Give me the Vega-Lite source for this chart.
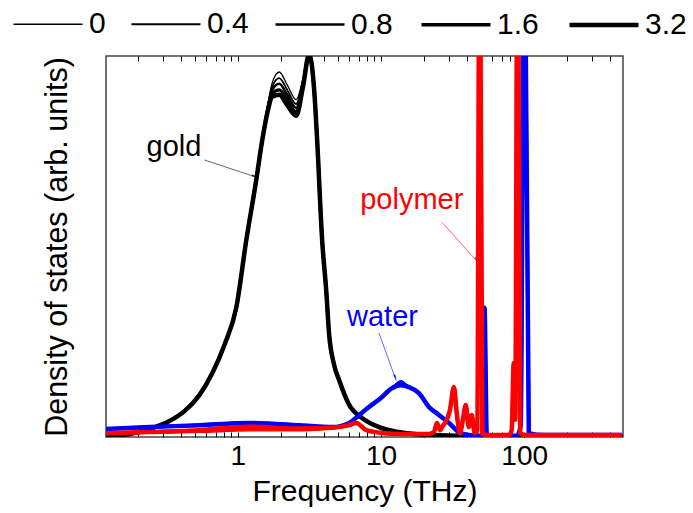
{
  "$schema": "https://vega.github.io/schema/vega-lite/v6.json",
  "width": 517,
  "height": 381,
  "autosize": {"type": "none"},
  "padding": {"left": 106, "top": 56, "right": 70, "bottom": 76},
  "background": "white",
  "config": {
    "view": {"stroke": "#444444", "strokeWidth": 1.5},
    "font": "Liberation Sans"
  },
  "resolve": {"axis": {"x": "independent"}},
  "layer": [
    {
      "data": {
        "values": [
          {"m": "gold", "f": 0.119, "a": 0.3, "b": 0.3, "c": 0.3, "d": 0.3, "e": 0.3},
          {"m": "gold", "f": 0.175, "a": 0.8, "b": 0.8, "c": 0.8, "d": 0.8, "e": 0.8},
          {"m": "gold", "f": 0.242, "a": 2.1, "b": 2.1, "c": 2.1, "d": 2.1, "e": 2.1},
          {"m": "gold", "f": 0.333, "a": 4.2, "b": 4.2, "c": 4.2, "d": 4.2, "e": 4.2},
          {"m": "gold", "f": 0.424, "a": 6.8, "b": 6.8, "c": 6.8, "d": 6.8, "e": 6.8},
          {"m": "gold", "f": 0.539, "a": 11.0, "b": 11.0, "c": 11.0, "d": 11.0, "e": 11.0},
          {"m": "gold", "f": 0.664, "a": 16.8, "b": 16.8, "c": 16.8, "d": 16.8, "e": 16.8},
          {"m": "gold", "f": 0.805, "a": 24.1, "b": 24.1, "c": 24.1, "d": 24.1, "e": 24.1},
          {"m": "gold", "f": 0.977, "a": 34.1, "b": 34.1, "c": 34.1, "d": 34.1, "e": 34.1},
          {"m": "gold", "f": 1.146, "a": 51.7, "b": 51.7, "c": 51.7, "d": 51.7, "e": 51.7},
          {"m": "gold", "f": 1.345, "a": 67.5, "b": 67.5, "c": 67.5, "d": 67.5, "e": 67.5},
          {"m": "gold", "f": 1.482, "a": 78.0, "b": 78.0, "c": 78.0, "d": 78.0, "e": 78.0},
          {"m": "gold", "f": 1.606, "a": 86.6, "b": 86.2, "c": 85.8, "d": 85.4, "e": 85.0},
          {"m": "gold", "f": 1.74, "a": 93.0, "b": 92.0, "c": 91.1, "d": 90.2, "e": 89.3},
          {"m": "gold", "f": 1.946, "a": 95.8, "b": 94.2, "c": 92.7, "d": 91.1, "e": 89.8},
          {"m": "gold", "f": 2.213, "a": 92.4, "b": 91.1, "c": 89.8, "d": 88.5, "e": 87.1},
          {"m": "gold", "f": 2.556, "a": 88.5, "b": 87.4, "c": 86.4, "d": 85.3, "e": 84.3},
          {"m": "gold", "f": 2.859, "a": 94.2, "b": 93.7, "c": 93.2, "d": 92.7, "e": 92.2},
          {"m": "gold", "f": 3.148, "a": 100.5, "b": 100.5, "c": 100.5, "d": 100.5, "e": 100.5},
          {"m": "gold", "f": 3.413, "a": 91.1, "b": 91.1, "c": 91.1, "d": 91.1, "e": 91.1},
          {"m": "gold", "f": 3.58, "a": 78.0, "b": 78.0, "c": 78.0, "d": 78.0, "e": 78.0},
          {"m": "gold", "f": 3.88, "a": 51.7, "b": 51.7, "c": 51.7, "d": 51.7, "e": 51.7},
          {"m": "gold", "f": 4.14, "a": 38.6, "b": 38.6, "c": 38.6, "d": 38.6, "e": 38.6},
          {"m": "gold", "f": 4.34, "a": 27.0, "b": 27.0, "c": 27.0, "d": 27.0, "e": 27.0},
          {"m": "gold", "f": 4.7, "a": 19.0, "b": 19.0, "c": 19.0, "d": 19.0, "e": 19.0},
          {"m": "gold", "f": 5.09, "a": 15.0, "b": 15.0, "c": 15.0, "d": 15.0, "e": 15.0},
          {"m": "gold", "f": 5.98, "a": 8.5, "b": 8.5, "c": 8.5, "d": 8.5, "e": 8.5},
          {"m": "gold", "f": 7.37, "a": 5.0, "b": 5.0, "c": 5.0, "d": 5.0, "e": 5.0},
          {"m": "gold", "f": 9.69, "a": 2.6, "b": 2.6, "c": 2.6, "d": 2.6, "e": 2.6},
          {"m": "gold", "f": 13.3, "a": 1.3, "b": 1.3, "c": 1.3, "d": 1.3, "e": 1.3},
          {"m": "gold", "f": 21.8, "a": 0.5, "b": 0.5, "c": 0.5, "d": 0.5, "e": 0.5},
          {"m": "gold", "f": 41.4, "a": 0.26, "b": 0.26, "c": 0.26, "d": 0.26, "e": 0.26},
          {"m": "gold", "f": 493, "a": 0.1, "b": 0.1, "c": 0.1, "d": 0.1, "e": 0.1},

          {"m": "water", "f": 0.119, "a": 2.1, "b": 2.1, "c": 2.1, "d": 2.1, "e": 2.1},
          {"m": "water", "f": 0.242, "a": 2.6, "b": 2.6, "c": 2.6, "d": 2.6, "e": 2.6},
          {"m": "water", "f": 0.539, "a": 3.1, "b": 3.1, "c": 3.1, "d": 3.1, "e": 3.1},
          {"m": "water", "f": 1.203, "a": 3.7, "b": 3.7, "c": 3.7, "d": 3.7, "e": 3.7},
          {"m": "water", "f": 2.68, "a": 3.1, "b": 3.1, "c": 3.1, "d": 3.1, "e": 3.1},
          {"m": "water", "f": 4.56, "a": 2.6, "b": 2.6, "c": 2.6, "d": 2.6, "e": 2.6},
          {"m": "water", "f": 5.98, "a": 3.7, "b": 3.7, "c": 3.7, "d": 3.7, "e": 3.7},
          {"m": "water", "f": 7.99, "a": 7.5, "b": 7.5, "c": 7.5, "d": 7.5, "e": 7.5},
          {"m": "water", "f": 10.16, "a": 10.5, "b": 10.5, "c": 10.5, "d": 10.5, "e": 10.5},
          {"m": "water", "f": 11.7, "a": 12.6, "b": 12.6, "c": 12.6, "d": 12.6, "e": 12.6},
          {"m": "water", "f": 13.8, "a": 14.8, "b": 14.5, "c": 14.2, "d": 13.9, "e": 13.6},
          {"m": "water", "f": 15.7, "a": 13.1, "b": 13.1, "c": 13.1, "d": 13.1, "e": 13.1},
          {"m": "water", "f": 18.4, "a": 11.5, "b": 11.5, "c": 11.5, "d": 11.5, "e": 11.5},
          {"m": "water", "f": 21.6, "a": 7.9, "b": 7.9, "c": 7.9, "d": 7.9, "e": 7.9},
          {"m": "water", "f": 25.4, "a": 5.8, "b": 5.8, "c": 5.8, "d": 5.8, "e": 5.8},
          {"m": "water", "f": 29.8, "a": 3.7, "b": 3.7, "c": 3.7, "d": 3.7, "e": 3.7},
          {"m": "water", "f": 35.0, "a": 1.3, "b": 1.3, "c": 1.3, "d": 1.3, "e": 1.3},
          {"m": "water", "f": 41.0, "a": 0.5, "b": 0.5, "c": 0.5, "d": 0.5, "e": 0.5},
          {"m": "water", "f": 48.2, "a": 0.3, "b": 0.3, "c": 0.3, "d": 0.3, "e": 0.3},
          {"m": "water", "f": 50.7, "a": 0.5, "b": 0.5, "c": 0.5, "d": 0.5, "e": 0.5},
          {"m": "water", "f": 52.8, "a": 33.9, "b": 33.9, "c": 33.9, "d": 33.9, "e": 33.9},
          {"m": "water", "f": 54.8, "a": 0.5, "b": 0.5, "c": 0.5, "d": 0.5, "e": 0.5},
          {"m": "water", "f": 61.4, "a": 0.3, "b": 0.3, "c": 0.3, "d": 0.3, "e": 0.3},
          {"m": "water", "f": 88.6, "a": 0.3, "b": 0.3, "c": 0.3, "d": 0.3, "e": 0.3},
          {"m": "water", "f": 94.6, "a": 3.0, "b": 3.0, "c": 3.0, "d": 3.0, "e": 3.0},
          {"m": "water", "f": 100.2, "a": 150, "b": 150, "c": 150, "d": 150, "e": 150},
          {"m": "water", "f": 107.7, "a": 1.0, "b": 1.0, "c": 1.0, "d": 1.0, "e": 1.0},
          {"m": "water", "f": 136.8, "a": 0.5, "b": 0.5, "c": 0.5, "d": 0.5, "e": 0.5},
          {"m": "water", "f": 478, "a": 0.5, "b": 0.5, "c": 0.5, "d": 0.5, "e": 0.5},

          {"m": "polymer", "f": 0.119, "a": 0.8, "b": 0.9, "c": 1.0, "d": 1.0, "e": 1.0},
          {"m": "polymer", "f": 0.242, "a": 1.0, "b": 1.1, "c": 1.2, "d": 1.3, "e": 1.3},
          {"m": "polymer", "f": 0.539, "a": 1.2, "b": 1.4, "c": 1.6, "d": 1.8, "e": 1.8},
          {"m": "polymer", "f": 1.203, "a": 1.6, "b": 1.9, "c": 2.2, "d": 2.5, "e": 2.7},
          {"m": "polymer", "f": 2.68, "a": 1.6, "b": 1.8, "c": 2.0, "d": 2.1, "e": 2.2},
          {"m": "polymer", "f": 4.56, "a": 2.2, "b": 2.3, "c": 2.4, "d": 2.4, "e": 2.4},
          {"m": "polymer", "f": 5.98, "a": 2.8, "b": 2.9, "c": 3.0, "d": 3.1, "e": 3.1},
          {"m": "polymer", "f": 6.7, "a": 3.7, "b": 3.7, "c": 3.7, "d": 3.7, "e": 3.7},
          {"m": "polymer", "f": 7.9, "a": 1.8, "b": 1.8, "c": 1.8, "d": 1.8, "e": 1.8},
          {"m": "polymer", "f": 10.5, "a": 1.0, "b": 1.0, "c": 1.0, "d": 1.0, "e": 1.0},
          {"m": "polymer", "f": 13.3, "a": 0.8, "b": 0.8, "c": 0.8, "d": 0.8, "e": 0.8},
          {"m": "polymer", "f": 21.6, "a": 0.8, "b": 0.8, "c": 0.8, "d": 0.8, "e": 0.8},
          {"m": "polymer", "f": 23.4, "a": 1.3, "b": 1.3, "c": 1.3, "d": 1.3, "e": 1.3},
          {"m": "polymer", "f": 24.6, "a": 3.7, "b": 3.7, "c": 3.7, "d": 3.7, "e": 3.7},
          {"m": "polymer", "f": 25.8, "a": 1.8, "b": 1.8, "c": 1.8, "d": 1.8, "e": 1.8},
          {"m": "polymer", "f": 27.0, "a": 2.9, "b": 2.9, "c": 2.9, "d": 2.9, "e": 2.9},
          {"m": "polymer", "f": 28.8, "a": 4.5, "b": 4.5, "c": 4.5, "d": 4.5, "e": 4.5},
          {"m": "polymer", "f": 30.3, "a": 7.1, "b": 7.1, "c": 7.1, "d": 7.1, "e": 7.1},
          {"m": "polymer", "f": 32.3, "a": 13.1, "b": 13.1, "c": 13.1, "d": 13.1, "e": 13.1},
          {"m": "polymer", "f": 33.9, "a": 5.8, "b": 5.8, "c": 5.8, "d": 5.8, "e": 5.8},
          {"m": "polymer", "f": 35.6, "a": 1.0, "b": 1.0, "c": 1.0, "d": 1.0, "e": 1.0},
          {"m": "polymer", "f": 37.3, "a": 4.5, "b": 4.5, "c": 4.5, "d": 4.5, "e": 4.5},
          {"m": "polymer", "f": 39.1, "a": 8.4, "b": 8.4, "c": 8.4, "d": 8.4, "e": 8.4},
          {"m": "polymer", "f": 41.0, "a": 2.6, "b": 2.6, "c": 2.6, "d": 2.6, "e": 2.6},
          {"m": "polymer", "f": 43.0, "a": 5.8, "b": 5.8, "c": 5.8, "d": 5.8, "e": 5.8},
          {"m": "polymer", "f": 45.2, "a": 1.0, "b": 1.0, "c": 1.0, "d": 1.0, "e": 1.0},
          {"m": "polymer", "f": 47.0, "a": 1.8, "b": 1.8, "c": 1.8, "d": 1.8, "e": 1.8},
          {"m": "polymer", "f": 48.9, "a": 150, "b": 150, "c": 150, "d": 150, "e": 150},
          {"m": "polymer", "f": 51.0, "a": 1.0, "b": 1.0, "c": 1.0, "d": 1.0, "e": 1.0},
          {"m": "polymer", "f": 54.8, "a": 0.5, "b": 0.5, "c": 0.5, "d": 0.5, "e": 0.5},
          {"m": "polymer", "f": 78.0, "a": 0.5, "b": 0.5, "c": 0.5, "d": 0.5, "e": 0.5},
          {"m": "polymer", "f": 81.8, "a": 1.8, "b": 1.8, "c": 1.8, "d": 1.8, "e": 1.8},
          {"m": "polymer", "f": 84.5, "a": 19.4, "b": 19.4, "c": 19.4, "d": 19.4, "e": 19.4},
          {"m": "polymer", "f": 86.5, "a": 4.5, "b": 4.5, "c": 4.5, "d": 4.5, "e": 4.5},
          {"m": "polymer", "f": 90.1, "a": 150, "b": 150, "c": 150, "d": 150, "e": 150},
          {"m": "polymer", "f": 93.8, "a": 1.0, "b": 1.0, "c": 1.0, "d": 1.0, "e": 1.0},
          {"m": "polymer", "f": 102.4, "a": 0.5, "b": 0.5, "c": 0.5, "d": 0.5, "e": 0.5},
          {"m": "polymer", "f": 478, "a": 0.5, "b": 0.5, "c": 0.5, "d": 0.5, "e": 0.5}
        ]
      },
      "transform": [{"fold": ["a", "b", "c", "d", "e"], "as": ["p", "v"]}],
      "mark": {"type": "line", "interpolate": "monotone", "clip": true, "strokeJoin": "round"},
      "encoding": {
        "x": {
          "field": "f",
          "type": "quantitative",
          "scale": {"type": "log", "domain": [0.12, 490], "nice": false},
          "axis": {
            "orient": "bottom",
            "title": "Frequency (THz)",
            "values": [0.2, 0.3, 0.4, 0.5, 0.6, 0.7, 0.8, 0.9, 1, 2, 3, 4, 5, 6, 7, 8, 9, 10, 20, 30, 40, 50, 60, 70, 80, 90, 100, 200, 300, 400],
            "labelExpr": "datum.value == 1 || datum.value == 10 || datum.value == 100 ? '' + datum.value : ''",
            "labelOverlap": false,
            "labelFlush": false,
            "labelFont": "Liberation Sans",
            "labelFontSize": 28,
            "labelColor": "black",
            "labelPadding": 10,
            "tickSize": -5,
            "tickColor": "black",
            "tickWidth": 1,
            "domain": false,
            "grid": false,
            "titleFont": "Liberation Sans",
            "titleFontSize": 30,
            "titleFontWeight": "normal",
            "titleColor": "black",
            "titlePadding": 6
          }
        },
        "y": {
          "field": "v",
          "type": "quantitative",
          "scale": {"domain": [0, 100], "nice": false},
          "title": "Density of states (arb. units)",
          "axis": {
            "ticks": false,
            "labels": false,
            "domain": false,
            "grid": false,
            "titleFont": "Liberation Sans",
            "titleFontSize": 30.5,
            "titleFontWeight": "normal",
            "titleColor": "black",
            "titlePadding": 34
          }
        },
        "color": {
          "field": "m",
          "type": "nominal",
          "scale": {"domain": ["gold", "water", "polymer"], "range": ["#000000", "#0000ff", "#ff0000"]},
          "legend": null
        },
        "strokeWidth": {
          "field": "p",
          "type": "ordinal",
          "scale": {"type": "ordinal", "domain": ["a", "b", "c", "d", "e"], "range": [1.3, 1.8, 2.6, 3.4, 4.5]},
          "legend": {
            "orient": "none",
            "legendX": -95,
            "legendY": -68,
            "direction": "horizontal",
            "columns": 5,
            "title": null,
            "padding": 0,
            "symbolType": "stroke",
            "symbolSize": 4761,
            "symbolStrokeColor": "black",
            "labelFont": "Liberation Sans",
            "labelFontSize": 30,
            "labelColor": "black",
            "labelOffset": 4,
            "columnPadding": 21,
            "labelLimit": 200,
            "labelExpr": "datum.label == 'a' ? '0' : datum.label == 'b' ? '0.4' : datum.label == 'c' ? '0.8' : datum.label == 'd' ? '1.6' : '3.2'"
          }
        }
      }
    },
    {
      "data": {
        "values": [
          {"t": "gold", "m": "gold", "f": 0.358, "v": 76.1},
          {"t": "water", "m": "water", "f": 10.24, "v": 31.5},
          {"t": "polymer", "m": "polymer", "f": 16.4, "v": 62.2}
        ]
      },
      "mark": {"type": "text", "font": "Liberation Sans", "fontSize": 29, "baseline": "middle", "align": "center"},
      "encoding": {
        "x": {
          "field": "f",
          "type": "quantitative",
          "axis": {
            "orient": "top",
            "title": null,
            "labels": false,
            "values": [0.2, 0.3, 0.4, 0.5, 0.6, 0.7, 0.8, 0.9, 1, 2, 3, 4, 5, 6, 7, 8, 9, 10, 20, 30, 40, 50, 60, 70, 80, 90, 100, 200, 300, 400],
            "tickSize": -5,
            "tickColor": "black",
            "tickWidth": 1,
            "domain": false,
            "grid": false
          }
        },
        "y": {"field": "v", "type": "quantitative", "title": "Density of states (arb. units)"},
        "text": {"field": "t"},
        "color": {"field": "m", "type": "nominal", "legend": null}
      }
    },
    {
      "data": {
        "values": [
          {"m": "gold", "f": 0.585, "v": 72.7, "f2": 1.345, "v2": 68.2},
          {"m": "water", "f": 9.68, "v": 27.3, "f2": 12.7, "v2": 15.0},
          {"m": "polymer", "f": 26.6, "v": 56.4, "f2": 47.4, "v2": 45.9}
        ]
      },
      "mark": {"type": "rule", "strokeWidth": 1, "opacity": 0.6},
      "encoding": {
        "x": {"field": "f", "type": "quantitative", "axis": null},
        "x2": {"field": "f2"},
        "y": {"field": "v", "type": "quantitative", "title": "Density of states (arb. units)"},
        "y2": {"field": "v2"},
        "color": {"field": "m", "type": "nominal", "legend": null}
      }
    },
    {
      "data": {"values": [{"m": "gold", "f": 1.3, "v": 68.5}]},
      "mark": {"type": "point", "shape": "wedge", "filled": true, "size": 70, "angle": 108, "opacity": 0.8},
      "encoding": {
        "x": {"field": "f", "type": "quantitative", "axis": null},
        "y": {"field": "v", "type": "quantitative", "title": "Density of states (arb. units)"},
        "color": {"field": "m", "type": "nominal", "legend": null}
      }
    },
    {
      "data": {"values": [{"m": "water", "f": 12.55, "v": 15.8}]},
      "mark": {"type": "point", "shape": "wedge", "filled": true, "size": 70, "angle": 160, "opacity": 0.8},
      "encoding": {
        "x": {"field": "f", "type": "quantitative", "axis": null},
        "y": {"field": "v", "type": "quantitative", "title": "Density of states (arb. units)"},
        "color": {"field": "m", "type": "nominal", "legend": null}
      }
    },
    {
      "data": {"values": [{"m": "polymer", "f": 46.5, "v": 46.6}]},
      "mark": {"type": "point", "shape": "wedge", "filled": true, "size": 70, "angle": 138, "opacity": 0.8},
      "encoding": {
        "x": {"field": "f", "type": "quantitative", "axis": null},
        "y": {"field": "v", "type": "quantitative", "title": "Density of states (arb. units)"},
        "color": {"field": "m", "type": "nominal", "legend": null}
      }
    }
  ]
}
